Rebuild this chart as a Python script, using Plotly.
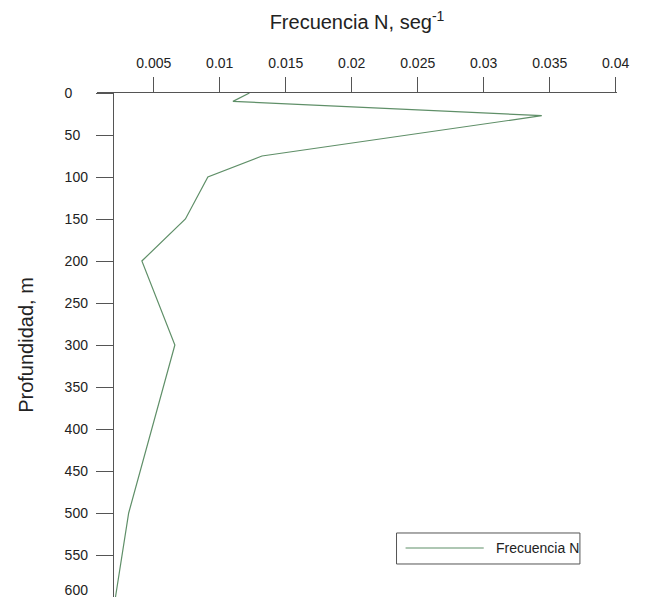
import plotly.graph_objects as go

# ---- data ----
depth_m = [0, 10, 27, 75, 100, 150, 200, 300, 500, 600]
freq_n = [0.01225, 0.0110, 0.0344, 0.0132, 0.0091, 0.0074, 0.0041, 0.0066, 0.0031, 0.0021]
series_name = "Frecuencia N"

x_tick_vals = [0.005, 0.01, 0.015, 0.02, 0.025, 0.03, 0.035, 0.04]
x_tick_text = ["0.005", "0.01", "0.015", "0.02", "0.025", "0.03", "0.035", "0.04"]
y_tick_vals = [0, 50, 100, 150, 200, 250, 300, 350, 400, 450, 500, 550]
y_edge_tick = [600]   # last tick, its label sits just above the bottom edge

x_title = "Frecuencia N, seg<sup>-1</sup>"
y_title = "Profundidad, m"

# ---- styling ----
LINE_COLOR = "#5f8f68"
AXIS_COLOR = "#555555"
TEXT_COLOR = "#222222"
FONT = "Liberation Sans, Arial, sans-serif"
Y_RANGE = [600, 0]
Y_POS = 0.0303


def pad3(v):
    # left-aligned labels: pad with figure spaces to 3 digits
    return str(v) + "\u2007" * (3 - len(str(v)))


y_tick_text = [pad3(v) for v in y_tick_vals]
y_edge_text = [pad3(v) for v in y_edge_tick]

fig = go.Figure()
fig.add_trace(go.Scatter(
    x=freq_n, y=depth_m, mode="lines", name=series_name,
    line=dict(color=LINE_COLOR, width=1.2), showlegend=False,
))
# same series bound to the overlay axis (invisible) so that axis gets drawn
fig.add_trace(go.Scatter(
    x=freq_n, y=depth_m, mode="lines", yaxis="y2", opacity=0,
    line=dict(color=LINE_COLOR, width=1), showlegend=False, hoverinfo="skip",
))

# page body has an 8px margin, so the figure is 8px smaller on each side
fig.update_layout(
    width=637, height=589,
    margin=dict(l=89, r=28, t=85, b=0),
    paper_bgcolor="white", plot_bgcolor="white",
    font=dict(family=FONT, size=14, color=TEXT_COLOR),
)

fig.update_xaxes(
    side="top", range=[0.0007, 0.0401],
    tickmode="array", tickvals=x_tick_vals, ticktext=x_tick_text,
    ticks="outside", ticklen=15, tickwidth=1, tickcolor=AXIS_COLOR,
    ticklabelstandoff=3,
    showline=True, linecolor=AXIS_COLOR, linewidth=1,
    showgrid=False, zeroline=False, automargin=False,
    tickfont=dict(size=14, color=TEXT_COLOR),
    title=dict(text=x_title, font=dict(size=20, color=TEXT_COLOR), standoff=20),
)

fig.update_layout(yaxis=dict(
    range=Y_RANGE, anchor="free", position=Y_POS,
    tickmode="array", tickvals=y_tick_vals, ticktext=y_tick_text,
    ticks="outside", ticklen=17, tickwidth=1, tickcolor=AXIS_COLOR,
    ticklabelstandoff=5,
    showline=True, linecolor=AXIS_COLOR, linewidth=1,
    showgrid=False, zeroline=False, automargin=False,
    tickfont=dict(size=14, color=TEXT_COLOR),
    title=dict(text=y_title, font=dict(size=20, color=TEXT_COLOR), standoff=24),
))

# overlay axis carrying only the bottom tick, its label nudged up to stay visible
fig.update_layout(yaxis2=dict(
    overlaying="y", matches="y", range=Y_RANGE, anchor="free", position=Y_POS,
    side="left",
    tickmode="array", tickvals=y_edge_tick, ticktext=y_edge_text,
    ticks="outside", ticklen=17, tickwidth=1, tickcolor=AXIS_COLOR,
    ticklabelstandoff=5, ticklabelshift=7, ticklabeloverflow="allow",
    showline=False, showgrid=False, zeroline=False, automargin=False,
    tickfont=dict(size=14, color=TEXT_COLOR),
))

# ---- manual legend box (paper coordinates) ----
fig.add_shape(type="rect", xref="paper", yref="paper",
              x0=0.576, x1=0.9287, y0=0.0655, y1=0.127,
              line=dict(color=AXIS_COLOR, width=1), fillcolor="white")
fig.add_shape(type="line", xref="paper", yref="paper",
              x0=0.5934, x1=0.7437, y0=0.0972, y1=0.0972,
              line=dict(color=LINE_COLOR, width=1.2))
fig.add_annotation(xref="paper", yref="paper", x=0.763, y=0.0972,
                   text=series_name, showarrow=False, xanchor="left", yanchor="middle",
                   font=dict(size=14, color=TEXT_COLOR))

fig.write_html("out.html")
